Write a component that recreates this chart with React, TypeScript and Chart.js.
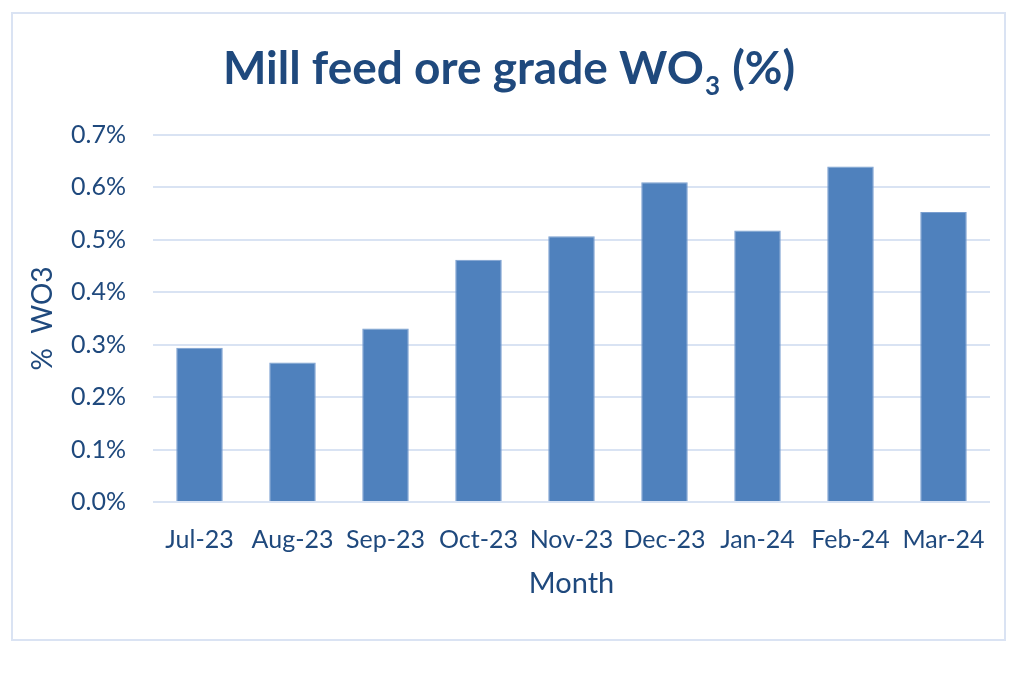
import React, { useEffect, useRef } from 'react';
import Chart from 'chart.js/auto';

const months = ['Jul-23', 'Aug-23', 'Sep-23', 'Oct-23', 'Nov-23', 'Dec-23', 'Jan-24', 'Feb-24', 'Mar-24'];
const gradeWO3 = [0.294, 0.266, 0.331, 0.462, 0.507, 0.610, 0.518, 0.640, 0.553];
const yTickLabels = ['0.0%', '0.1%', '0.2%', '0.3%', '0.4%', '0.5%', '0.6%', '0.7%'];

const TEXT = '#1F497D';
const BAR = '#4F81BD';
const GRID = '#D9E3F3';

// title has a subscript, so draw it by hand
const titlePlugin = {
  id: 'subscriptTitle',
  afterDraw(chart: Chart) {
    const ctx = chart.ctx;
    const main = 'Mill feed ore grade WO';
    const sub = '3';
    const end = ' (%)';
    ctx.save();
    ctx.fillStyle = TEXT;
    ctx.textAlign = 'left';
    ctx.textBaseline = 'alphabetic';
    ctx.font = 'bold 46px Lato';
    const w1 = ctx.measureText(main).width;
    const w3 = ctx.measureText(end).width;
    ctx.font = 'bold 26px Lato';
    const w2 = ctx.measureText(sub).width + 2;
    let x = 509 - (w1 + w2 + w3) / 2;
    ctx.font = 'bold 46px Lato';
    ctx.fillText(main, x, 84);
    x += w1;
    ctx.font = 'bold 26px Lato';
    ctx.fillText(sub, x + 1, 95);
    x += w2;
    ctx.font = 'bold 46px Lato';
    ctx.fillText(end, x, 84);
    ctx.restore();
  },
};

const App: React.FC = () => {
  const canvasRef = useRef<HTMLCanvasElement>(null);
  const chartRef = useRef<Chart | null>(null);

  useEffect(() => {
    document.body.style.margin = '0';
    if (!canvasRef.current) return;
    if (chartRef.current) chartRef.current.destroy();

    chartRef.current = new Chart(canvasRef.current, {
      type: 'bar',
      data: {
        labels: months,
        datasets: [{
          label: '% WO3',
          data: gradeWO3,
          backgroundColor: BAR,
          borderColor: '#7A9FD0',
          borderWidth: 1,
          barPercentage: 0.5,
          categoryPercentage: 1.0,
        }],
      },
      options: {
        animation: false,
        responsive: true,
        maintainAspectRatio: false,
        layout: { padding: { top: 135, right: 34, left: 0, bottom: 0 } },
        plugins: {
          legend: { display: false },
          tooltip: { enabled: false },
        },
        scales: {
          x: {
            grid: { display: false },
            border: { display: false },
            ticks: { color: TEXT, font: { family: 'Lato', size: 25 }, padding: 15, maxRotation: 0, autoSkip: false },
            title: { display: true, text: 'Month', color: TEXT, font: { family: 'Lato', size: 29 }, padding: { bottom: 73 } },
            afterFit: (scale: any) => { scale.height = 172; },
          },
          y: {
            min: 0,
            max: 0.7,
            grid: { color: GRID, lineWidth: 2, drawTicks: false },
            border: { display: false },
            ticks: {
              stepSize: 0.1,
              color: TEXT,
              font: { family: 'Lato', size: 25 },
              padding: 27,
              callback: (_v: any, i: number) => yTickLabels[i],
            },
            title: { display: true, text: '%  WO3', color: TEXT, font: { family: 'Lato', size: 28 }, padding: { top: 26 } },
            afterFit: (scale: any) => { scale.width = 153; },
          },
        },
      },
      plugins: [titlePlugin],
    });

    return () => {
      if (chartRef.current) {
        chartRef.current.destroy();
        chartRef.current = null;
      }
    };
  }, []);

  return (
    <div style={{ position: 'relative', width: 1024, height: 674, background: '#fff' }}>
      <canvas ref={canvasRef}></canvas>
      <div
        style={{
          position: 'absolute', left: 11, top: 12, width: 991, height: 625,
          border: '2px solid #DAE3F3', pointerEvents: 'none',
        }}
      />
    </div>
  );
};

export default App;
